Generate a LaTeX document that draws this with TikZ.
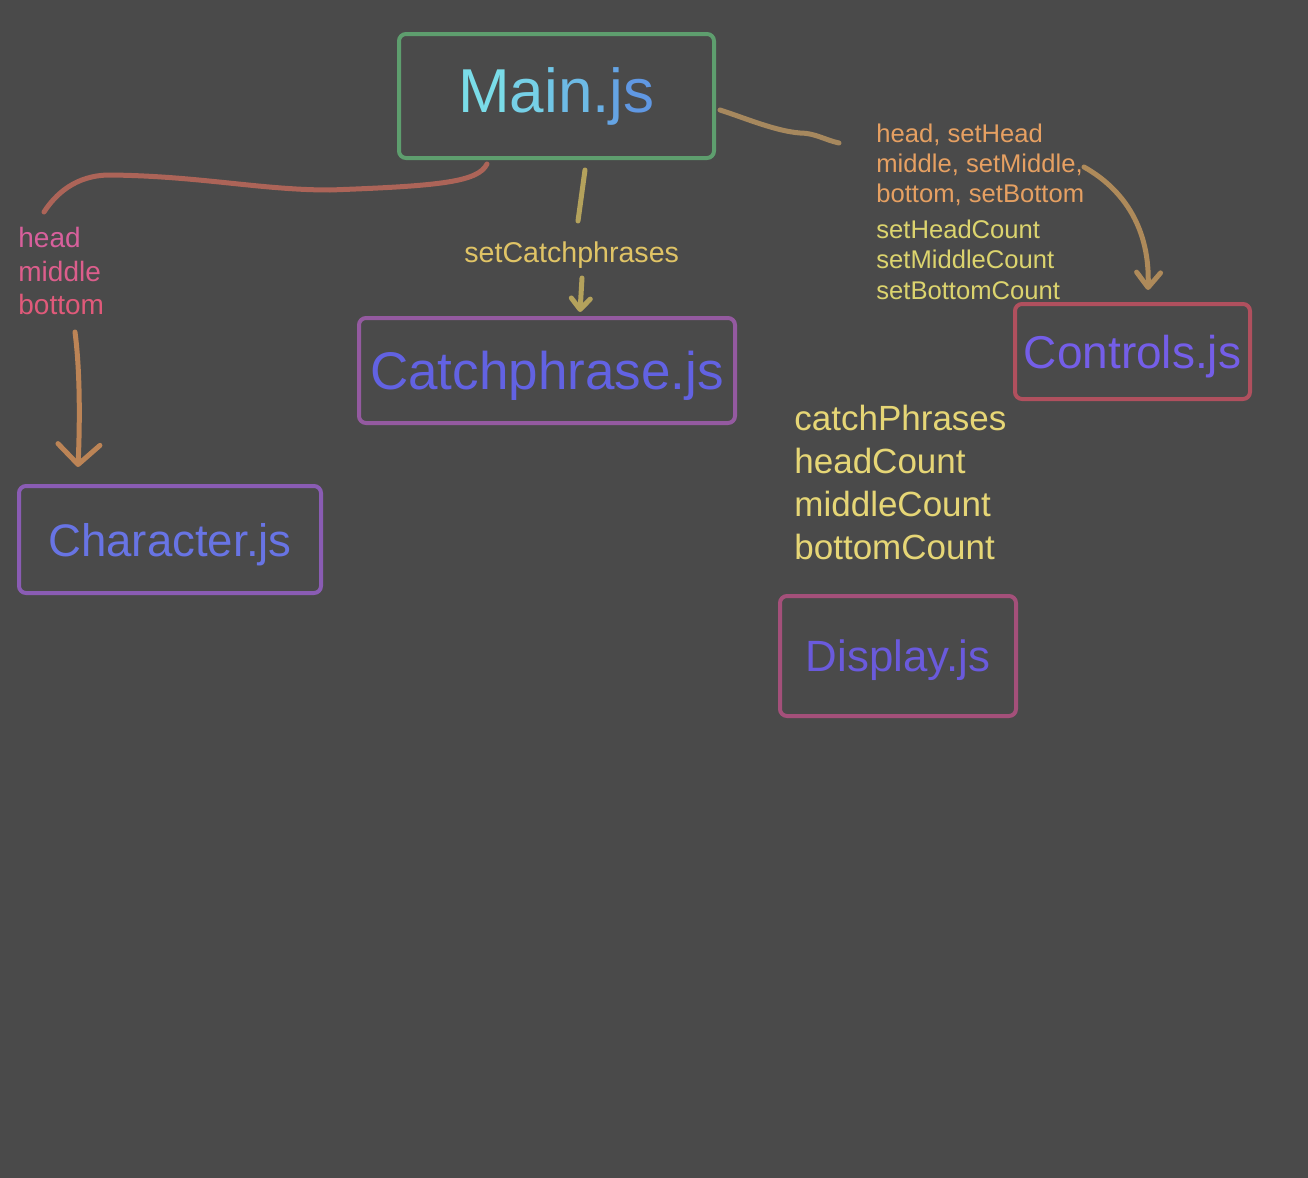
\documentclass[tikz,border=0pt]{standalone}
\usepackage{fontspec}
\setmainfont{Liberation Sans}
\usetikzlibrary{arrows.meta,calc}
\definecolor{bg}{HTML}{4A4A4A}
\definecolor{cMainB}{HTML}{5E9E6E}
\definecolor{cCatB}{HTML}{945AA0}
\definecolor{cCharB}{HTML}{8A5CB4}
\definecolor{cCtrlB}{HTML}{B0505E}
\definecolor{cDispB}{HTML}{A4507A}
\definecolor{cCat}{HTML}{6262E2}
\definecolor{cChar}{HTML}{6874E4}
\definecolor{cCtrl}{HTML}{745EE8}
\definecolor{cDisp}{HTML}{6A5ADC}
\definecolor{mA}{HTML}{7ADCE8}
\definecolor{mB}{HTML}{5C8CE2}
\definecolor{pkA}{HTML}{D8609C}
\definecolor{pkB}{HTML}{DC5E8C}
\definecolor{pkC}{HTML}{E05A7A}
\definecolor{cSetCat}{HTML}{E0C466}
\definecolor{cOrange}{HTML}{E6A062}
\definecolor{cYellow}{HTML}{DCD46E}
\definecolor{cState}{HTML}{E6D676}
\definecolor{lnLeft}{HTML}{AC6458}
\definecolor{lnLeftArr}{HTML}{BC8456}
\definecolor{lnMid}{HTML}{B4A25C}
\definecolor{lnRight}{HTML}{A6885E}
\definecolor{lnRightArr}{HTML}{AE8A5A}
\newcommand{\fs}[1]{\fontsize{#1}{#1}\selectfont}
\begin{document}
\begin{tikzpicture}[x=0.5pt,y=-0.5pt,
  filebox/.style={draw, rounded corners=3.5pt, line width=2pt, inner sep=0pt, align=center},
  flat/.style={text depth=0pt},
  lbl/.style={anchor=base west, inner sep=0pt},
  conn/.style={line width=2.5pt, line cap=round, line join=round},
  barbL/.style={-{Straight Barb[length=10pt,width=21pt,round]}},
  barbM/.style={-{Straight Barb[length=5.5pt,width=9.5pt,round]}},
  barbR/.style={-{Straight Barb[length=7.5pt,width=12pt,round]}}]
\fill[bg] (0,0) rectangle (1308,1178);
\useasboundingbox (0,0) rectangle (1308,1178);

% file boxes
\node[filebox, draw=cMainB, minimum width=157.5pt, minimum height=62pt] (main) at (556.5,96)
  {\fs{31pt}\textcolor{mA}{M}\textcolor{mA!85!mB}{a}\textcolor{mA!72!mB}{i}\textcolor{mA!58!mB}{n}\textcolor{mA!44!mB}{.}\textcolor{mA!30!mB}{j}\textcolor{mA!15!mB}{s}};
\node[filebox, flat, draw=cCatB, text=cCat, minimum width=188pt, minimum height=52.5pt, font=\fs{26.5pt}] (catch) at (547,370.5) {Catchphrase.js};
\node[filebox, flat, draw=cCharB, text=cChar, minimum width=151pt, minimum height=53.5pt, font=\fs{22.8pt}] (char) at (170,539.5) {Character.js};
\node[filebox, flat, draw=cCtrlB, text=cCtrl, minimum width=117.5pt, minimum height=47.5pt, font=\fs{23pt}] (ctrl) at (1132.5,351.5) {Controls.js};
\node[filebox, flat, draw=cDispB, text=cDisp, minimum width=118pt, minimum height=60pt, font=\fs{21.9pt}] (disp) at (898,656) {Display.js};

% left labels
\node[lbl, text=pkA, font=\fs{14pt}] (lh) at (18,247) {head};
\node[lbl, text=pkB, font=\fs{14pt}] (lm) at (18,281) {middle};
\node[lbl, text=pkC, font=\fs{14pt}] (lb) at (18,314) {bottom};

% middle label
\node[lbl, text=cSetCat, font=\fs{14.3pt}] (sc) at (464,262) {setCatchphrases};

% right labels
\node[lbl, text=cOrange, font=\fs{12.8pt}] (r1) at (876,142) {head, setHead};
\node[lbl, text=cOrange, font=\fs{12.8pt}] (r2) at (876,172) {middle, setMiddle,};
\node[lbl, text=cOrange, font=\fs{12.8pt}] (r3) at (876,202) {bottom, setBottom};
\node[lbl, text=cYellow, font=\fs{12.8pt}] (r4) at (876,238) {setHeadCount};
\node[lbl, text=cYellow, font=\fs{12.8pt}] (r5) at (876,268) {setMiddleCount};
\node[lbl, text=cYellow, font=\fs{12.8pt}] (r6) at (876,299) {setBottomCount};

% display state labels
\node[lbl, text=cState, font=\fs{17.5pt}] (d1) at (794,430) {catchPhrases};
\node[lbl, text=cState, font=\fs{17.5pt}] (d2) at (794,473) {headCount};
\node[lbl, text=cState, font=\fs{17.5pt}] (d3) at (794,516) {middleCount};
\node[lbl, text=cState, font=\fs{17.5pt}] (d4) at (794,559) {bottomCount};

% connector end points
\coordinate (mainBL) at (487,164);
\coordinate (leftTop) at (44,212);
\coordinate (leftFrom) at (75,332);
\coordinate (charTop) at (78,467);
\coordinate (mainB) at (585,170);
\coordinate (scTop) at (578,221);
\coordinate (scBot) at (582,278);
\coordinate (catchTop) at (580,312);
\coordinate (mainR) at (720,110);
\coordinate (rlEnd) at (839,143);
\coordinate (rlFrom) at (1084,167);
\coordinate (ctrlTop) at (1148,290);

% connectors
\draw[conn, lnLeft] (mainBL) .. controls (478,182) and (440,186) .. (330,190)
  .. controls (260,190) and (200,176) .. (110,175)
  .. controls (75,175) and (55,195) .. (leftTop);
\draw[conn, lnLeftArr, barbL] (leftFrom) .. controls (80,370) and (80,420) .. (charTop);
\draw[conn, lnMid] (mainB) -- (scTop);
\draw[conn, lnMid, barbM] (scBot) -- (catchTop);
\draw[conn, lnRight] (mainR) .. controls (745,118) and (775,131) .. (800,133)
  .. controls (815,133) and (825,140) .. (rlEnd);
\draw[conn, lnRightArr, barbR] (rlFrom) .. controls (1125,190) and (1150,230) .. (ctrlTop);
\end{tikzpicture}
\end{document}
